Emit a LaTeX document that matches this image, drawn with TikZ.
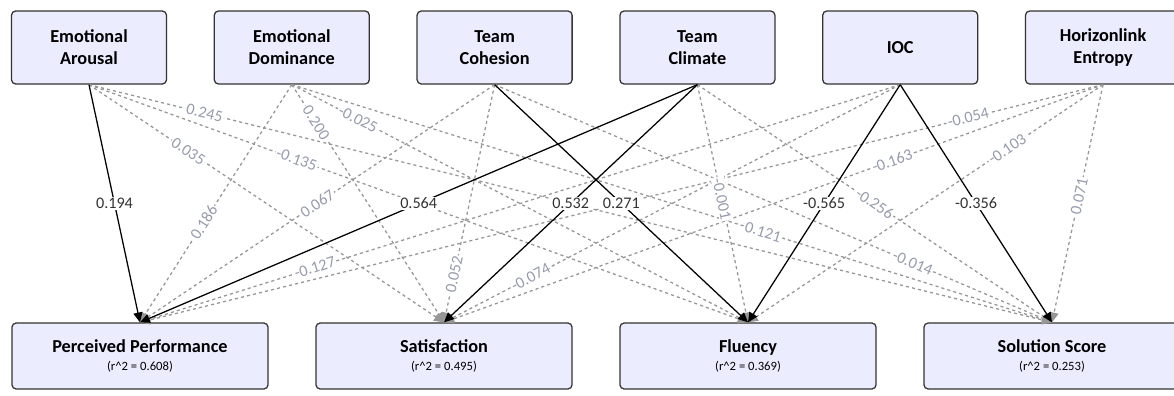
\documentclass[tikz,border=0pt]{standalone}
\usepackage{fontspec}
\setmainfont{Carlito}
\usetikzlibrary{arrows.meta}
\definecolor{boxfill}{RGB}{236,236,255}
\definecolor{boxline}{RGB}{51,51,51}
\definecolor{dashgray}{RGB}{150,150,150}
\definecolor{labelgray}{RGB}{150,156,172}
\def\colsep{202.8}
\def\outsep{304}

\begin{document}
\begin{tikzpicture}[x=0.025cm,y=-0.025cm,>={Triangle[length=7pt,width=6.4pt]}]
    \tikzstyle{box}=[draw=boxline,fill=boxfill,rounded corners=3pt,line width=0.9pt,align=center,font=\fontsize{13}{15.6}\selectfont\bfseries]
    \tikzstyle{input box}=[box,minimum width=3.875cm,minimum height=1.825cm]
    \tikzstyle{output box}=[box,minimum width=6.4cm,minimum height=1.65cm]
    \tikzstyle{strong path}=[->,draw=black,line width=0.9pt]
    \tikzstyle{weak path}=[->,draw=dashgray,line width=0.9pt,dash pattern=on 2.2pt off 2.2pt]
    \tikzstyle{strong label}=[fill=white,inner sep=1pt,font=\fontsize{11.5}{13}\selectfont,text=boxline]
    \tikzstyle{weak label}=[strong label,text=labelgray,sloped]

    \useasboundingbox (0,0) rectangle (1174,395);

    % Draw the predictor nodes
    \foreach \name / \txt [count=\i from 0] in {EA/Emotional\\Arousal, ED/Emotional\\Dominance,
            TCo/Team\\Cohesion, TCl/Team\\Climate, IOC/IOC, HE/Horizonlink\\Entropy}
        \node[input box] (\name) at (89+\i*\colsep,47.5) {\txt};

    % Draw the outcome nodes
    \foreach \name / \txt / \rsq [count=\i from 0] in {PP/Perceived Performance/0.608,
            Sat/Satisfaction/0.495, Flu/Fluency/0.369, Sol/Solution Score/0.253}
        \node[output box] (\name) at (140+\i*\outsep,356)
            {\txt\\[-3pt]{\mdseries\fontsize{9}{11}\selectfont (r\textasciicircum 2 = \rsq)}};

    \def\weaklist{EA/Sat/0.035/0.28, EA/Flu/-0.135/0.315, EA/Sol/0.245/0.12,
        ED/PP/0.186/0.58, ED/Sat/0.200/0.16, ED/Flu/-0.025/0.145, ED/Sol/0.121/0.62,
        TCo/PP/0.067/0.5, TCo/Sat/0.052/0.8, TCo/Sol/-0.014/0.75,
        TCl/Flu/-0.001/0.48, TCl/Sol/-0.256/0.5,
        IOC/PP/-0.127/0.77, IOC/Sat/-0.074/0.81,
        HE/PP/-0.054/0.14, HE/Sat/-0.163/0.32, HE/Flu/-0.103/0.27, HE/Sol/0.071/0.47}
    \def\stronglist{EA/PP/0.194, TCl/PP/0.564, TCl/Sat/0.532,
        TCo/Flu/0.271, IOC/Flu/-0.565, IOC/Sol/-0.356}

    % Connect the paths, weak ones first
    \foreach \source / \dest / \w / \p in \weaklist
        \draw[weak path] (\source.south) -- (\dest.north);
    \foreach \source / \dest / \w in \stronglist
        \draw[strong path] (\source.south) -- (\dest.north);

    % Put the coefficients on top
    \foreach \source / \dest / \w / \p in \weaklist
        \path (\source.south) -- node[weak label,pos=\p] {\w} (\dest.north);
    \foreach \source / \dest / \w in \stronglist
        \path (\source.south) -- node[strong label] {\w} (\dest.north);
\end{tikzpicture}
\end{document}
